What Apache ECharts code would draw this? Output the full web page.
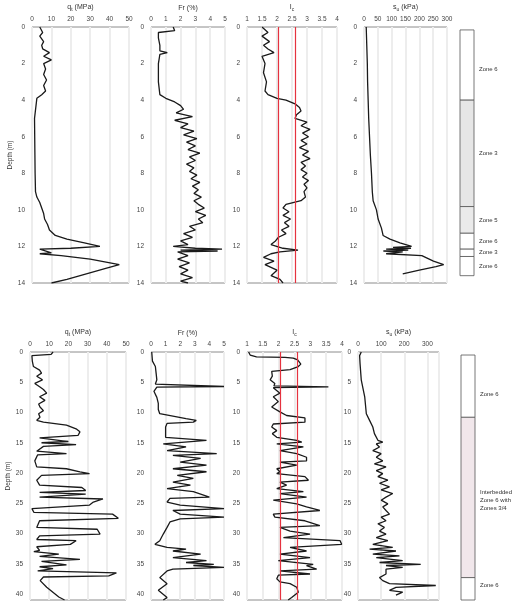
<!DOCTYPE html>
<html>
<head>
<meta charset="UTF-8">
<title>CPT profiles</title>
<script src="https://cdn.jsdelivr.net/npm/echarts@6/dist/echarts.min.js"></script>
<style>
  html, body { margin: 0; padding: 0; background: #fff; }
  #chart { width: 521px; height: 602px; }
</style>
</head>
<body>
<div id="chart"></div>
<script>
// ---- upper profile (0-14 m) ----
const qtTopDepth = [0,0.3,0.5,0.8,1.0,1.2,1.4,1.6,1.8,2.0,2.3,2.6,2.9,3.2,3.5,3.7,3.9,4.0,5,6,7,8,9,9.3,9.6,9.9,10.2,10.5,10.8,11.1,11.4,11.6,11.8,12.0,12.1,12.15,12.25,12.35,12.4,12.5,12.7,13.0,13.2,13.5,13.8,14.0];
const qtTopVal   = [4,5.5,4,6,5,5.5,9,6,10,6,7,6,7.5,6,7,5,2.5,1.5,1.3,1.4,1.5,1.6,1.8,2.5,4,5,6,6.5,8,9,12,18,27,35,20,4,3,10,4,15,30,45,38,28,18,10];

const frTopDepth = [0,0.2,0.3,0.6,1.0,1.3,1.4,1.5,2,3,3.7,3.9,4.1,4.3,4.5,4.7,4.9,5.1,5.3,5.5,5.7,5.9,6.1,6.3,6.5,6.7,6.9,7.1,7.3,7.5,7.7,7.9,8.1,8.3,8.5,8.7,8.9,9.1,9.3,9.5,9.7,9.9,10.1,10.3,10.5,10.7,10.9,11.1,11.3,11.5,11.7,11.9,12.0,12.1,12.15,12.2,12.25,12.3,12.5,12.7,12.9,13.1,13.3,13.5,13.7,13.9,14];
const frTopVal   = [1.5,1.6,0.5,0.5,0.6,0.6,1.1,0.6,0.5,0.5,0.6,1.0,1.6,2.0,2.2,1.7,2.8,1.6,2.5,2.0,2.9,2.2,3.1,2.4,3.0,2.5,3.3,2.6,3.0,2.4,2.9,2.6,3.1,2.7,3.3,2.8,3.2,2.9,3.4,2.9,3.2,3.6,3.0,3.7,3.2,3.5,2.6,3.0,2.2,2.8,2.0,2.5,1.5,3.0,4.8,2.0,4.5,1.8,2.5,1.8,2.6,1.9,2.5,2.0,2.8,2.0,2.5];

const icTopDepth = [0,0.3,0.5,0.8,1.0,1.2,1.4,1.6,2.0,2.5,3.0,3.5,3.7,3.9,4.0,4.2,4.4,4.6,4.8,5.0,5.2,5.4,5.6,5.8,6.0,6.2,6.4,6.6,6.8,7.0,7.2,7.4,7.6,7.8,8.0,8.2,8.4,8.6,8.8,9.0,9.3,9.5,9.7,9.9,10.1,10.3,10.5,10.7,10.9,11.1,11.3,11.5,11.7,11.9,12.0,12.1,12.2,12.3,12.4,12.6,12.8,13.0,13.3,13.6,13.8,14.0];
const icTopVal   = [1.5,1.7,1.5,1.75,1.55,1.7,1.9,1.5,1.6,1.55,1.65,1.6,1.7,2.0,2.3,2.6,2.75,2.8,2.65,2.6,3.0,2.8,3.1,2.85,3.05,2.8,3.0,2.75,3.05,2.85,3.1,2.8,2.95,2.8,3.0,2.85,3.05,2.9,3.0,2.9,2.95,2.8,2.3,2.2,2.4,2.2,2.45,2.25,2.4,2.15,2.3,2.05,1.95,1.8,1.75,2.2,2.7,2.1,1.8,1.55,1.9,1.6,2.0,1.8,2.1,2.2];

const suTopDepth = [0,1,2,3,4,5,6,7,8,9,9.5,10,10.5,11,11.4,11.6,11.8,12.0,12.05,12.1,12.15,12.2,12.25,12.3,12.4,12.5,12.8,13.0,13.1,13.3,13.5];
const suTopVal   = [8,10,12,13,15,17,20,23,27,30,33,45,51,63,69,94,130,172,105,170,80,160,70,140,80,209,251,288,260,200,140];

const zoneTopStart = [0.16,4.0,9.82,11.28,12.15,12.55];
const zoneTopEnd   = [4.0,9.82,11.28,12.15,12.55,13.6];
const zoneTopLabelAt = [2.3,6.9,10.6,11.7,12.35,13.1];
const zoneTopNames = ['Zone 6','Zone 3','Zone 5','Zone 6','Zone 3','Zone 6'];

// ---- lower profile (0-41 m) ----
const qtBotDepth = [0,0.4,0.6,1.5,2.4,3.0,3.5,4.0,4.6,5.2,5.75,6.2,6.8,7.4,8.0,8.6,9.1,9.7,10.2,10.8,11.3,11.6,11.8,12.1,12.7,13.2,13.8,14.0,14.2,14.5,14.8,15.0,15.3,15.6,16.4,16.8,17.0,18.0,19.0,19.3,19.8,20.1,20.4,21.2,22.0,22.4,22.9,23.2,23.5,24.0,24.3,24.8,25.3,25.6,25.9,26.5,26.8,27.5,27.9,29.0,29.3,30.1,30.4,31.0,31.2,31.8,32.2,32.8,33.0,33.4,33.8,34.3,34.6,34.9,35.2,35.5,35.8,36.2,36.5,37.0,37.2,37.8,38.9,40.5,41];
const qtBotVal   = [12,11,1,1.2,1.8,5,6,3.5,6.5,2.5,5,7,8.7,5,7.8,4.5,5.2,7,4.5,5.2,3.5,7,12,19,24,26,25,26,5,4.4,20,6,24,7,3.5,19,4,2.5,3.5,19,26,31,6,3.5,5,27,29,5,29,5,38,33,31,30,1,2,43,46,5,3.5,35,36.5,5,3.5,24,21,3.5,5,2,15,5,26,6,5,19,5,12,4,45,41,7,5.3,8.7,15,18];

const frBotDepth = [0,1.5,2.4,3.5,4.6,5.3,5.6,5.7,5.8,6.5,7.5,8.5,9.5,10.2,11.0,11.3,11.6,11.8,12.4,13.5,14.1,14.6,15.2,15.7,16.3,16.8,17.1,17.6,18.2,18.7,19.3,19.8,20.4,20.9,21.5,22.0,22.6,23.1,24.0,24.2,24.8,25.3,25.9,26.2,26.8,27.3,27.6,28.1,29.0,30.1,31.2,31.8,32.0,32.3,32.6,32.9,33.4,34.0,34.5,34.8,35.1,35.3,35.6,35.9,36.2,37.3,38.3,39.4,40.6,41];
const frBotVal   = [0.05,0.1,0.3,0.35,0.4,0.3,0.3,5,0.4,0.2,0.4,0.5,0.5,0.6,2.4,3.1,2.9,1.1,1.0,1.0,1.0,3.8,0.84,2.4,1.1,4.5,1.5,3.4,2.0,3.8,1.5,3.8,1.8,2.9,1.5,2.7,1.1,2.9,4.0,1.3,1.1,2.0,5,1.5,2.0,5,2.0,1.3,1.1,0.84,0.6,0.27,0.16,1.1,2.4,1.5,3.4,1.5,3.8,2.4,4.3,2.9,5,1.5,1.1,0.6,1.1,0.5,1.1,0.84];

const icBotDepth = [0,0.5,0.8,0.9,1.0,1.3,1.6,2.0,2.4,2.9,3.2,3.5,4.0,4.6,5.2,5.6,5.75,5.9,6.8,7.4,8.2,9.1,9.9,10.5,10.9,11.6,11.9,12.4,13.0,13.5,14.1,14.6,14.9,15.2,15.7,16.3,16.8,17.4,18.0,18.2,18.7,19.3,19.8,20.1,20.6,21.2,21.5,22.0,22.6,23.1,23.4,24.0,24.5,24.8,25.1,25.6,26.2,26.8,27.3,27.9,28.7,29.0,29.6,30.1,30.7,31.2,31.8,32.3,32.9,33.4,34.0,34.5,35.1,35.3,35.9,36.2,36.7,36.9,37.5,38.0,38.3,38.9,39.7,40.6,41.0];
const icBotVal   = [1.05,1.1,1.3,2.2,2.46,2.6,2.65,2.7,2.62,2.36,1.78,1.75,1.8,1.73,1.88,1.85,3.57,1.83,2.04,1.83,1.99,1.78,2.04,2.25,2.83,2.83,1.83,1.78,1.94,1.8,1.94,2.57,2.73,1.94,2.78,2.04,2.57,2.88,2.88,2.04,2.57,1.94,2.04,1.94,2.83,2.94,2.04,2.25,1.94,2.78,2.04,2.88,1.83,1.78,2.57,2.88,3.3,1.83,1.88,2.83,3.3,2.04,2.36,2.99,2.15,3.94,3.99,2.36,2.88,2.04,2.99,1.99,3.09,2.88,3.2,2.04,2.99,1.99,1.94,2.04,2.36,2.57,2.62,2.41,2.3];

const suBotDepth = [0,0.6,2,4.6,7.4,10.2,11.3,12.4,13.5,14.6,14.9,15.2,15.7,16.3,16.8,17.4,18.0,18.5,19.0,19.6,20.1,20.6,21.2,21.7,22.3,22.8,23.4,24.0,24.5,25.1,25.6,26.2,26.8,27.3,27.9,28.4,29.0,29.6,30.1,30.7,31.2,31.8,32.3,32.6,32.9,33.4,33.7,34.0,34.5,34.8,35.1,35.3,35.6,35.9,36.7,37.3,37.8,38.3,38.6,38.9,39.4,39.7,40.2];
const suBotVal   = [14,7,9,14,29,36,50,64,71,86,107,79,93,64,100,79,107,71,121,79,107,86,129,93,136,100,150,121,100,129,107,121,136,100,121,86,114,93,121,79,129,64,150,50,164,64,179,79,193,93,271,121,193,121,121,93,107,136,336,164,136,193,164];

const zoneBotStart = [0.5,10.8,37.3];
const zoneBotEnd   = [10.8,37.3,41];
const zoneBotLabelAt = [7,24.6,38.6];
const zoneBotNames = ['Zone 6','Interbedded\nZone 6 with\nZones 3/4','Zone 6'];

// reference lines on Ic
const icLimits = [2.05, 2.6];

const FONT = '"Liberation Sans", Arial, sans-serif';
const titleRich = {
  m: { fontSize: 7, color: '#333', fontFamily: FONT },
  s: { fontSize: 5, color: '#333', fontFamily: FONT, padding: [4, 0, 0, 0] }
};

// layout: [left, width] per panel and grid top/height per row
const rows = [
  { top: 27, height: 256, max: 14, interval: 2, panels: [[32, 97], [151, 74], [247, 90], [364, 83]], zone: [460, 14], suMax: 300, suInt: 50 },
  { top: 352, height: 248, max: 41, interval: 5, panels: [[30, 96], [151, 73], [247, 95], [358, 81]], zone: [461, 14], suMax: 350, suInt: 100 }
];
const names = ['{m|q}{s|t}{m| (MPa)}', '{m|Fr (%)}', '{m|I}{s|c}', '{m|s}{s|u}{m| (kPa)}'];

const grids = [], xAxes = [], yAxes = [], series = [];

rows.forEach((row, r) => {
  const xSpec = [
    { min: 0, max: 50, interval: 10 },
    { min: 0, max: 5, interval: 1 },
    { min: 1, max: 4, interval: 0.5 },
    { min: 0, max: row.suMax, interval: row.suInt }
  ];
  row.panels.forEach((p, i) => {
    const gi = grids.length;
    grids.push({ left: p[0], width: p[1], top: row.top, height: row.height, show: true, borderColor: '#8c8c8c', borderWidth: 1 });
    xAxes.push({
      gridIndex: gi, type: 'value', position: 'top',
      min: xSpec[i].min, max: xSpec[i].max, interval: xSpec[i].interval,
      name: names[i], nameLocation: 'middle', nameGap: 15,
      nameTextStyle: { rich: titleRich },
      axisLine: { show: false }, axisTick: { show: false },
      axisLabel: { fontSize: 6.5, color: '#444', fontFamily: FONT, margin: 4, showMaxLabel: !(r === 1 && i === 3) },
      splitLine: { show: true, lineStyle: { color: '#ededed', width: 2 } }
    });
    yAxes.push({
      gridIndex: gi, type: 'value', inverse: true,
      min: 0, max: row.max, interval: row.interval,
      name: i === 0 ? 'Depth (m)' : '', nameLocation: 'middle', nameGap: 15, nameRotate: 90,
      nameTextStyle: { fontSize: 6.5, color: '#333', fontFamily: FONT },
      axisLine: { show: false }, axisTick: { show: false },
      axisLabel: { fontSize: 6.5, color: '#444', fontFamily: FONT, margin: 7, showMaxLabel: r === 0 },
      splitLine: { show: false }
    });
  });
  // zone column grid
  const zi = grids.length;
  grids.push({ left: row.zone[0], width: row.zone[1], top: row.top, height: row.height, show: false });
  xAxes.push({ gridIndex: zi, type: 'value', min: 0, max: 1, show: false });
  yAxes.push({ gridIndex: zi, type: 'value', inverse: true, min: 0, max: row.max, show: false });
});

function addLine(idx, depth, vals, extra) {
  series.push(Object.assign({
    type: 'line', xAxisIndex: idx, yAxisIndex: idx,
    data: depth.map((d, i) => [vals[i], d]),
    showSymbol: false, symbol: 'none', animation: false, clip: true,
    lineStyle: { color: '#1a1a1a', width: 1.3 }
  }, extra || {}));
}

const icMark = {
  markLine: {
    silent: true, symbol: 'none', label: { show: false },
    lineStyle: { color: '#e5323f', width: 1.2, type: 'solid' },
    data: icLimits.map(v => ({ xAxis: v }))
  }
};

addLine(0, qtTopDepth, qtTopVal);
addLine(1, frTopDepth, frTopVal);
addLine(2, icTopDepth, icTopVal, icMark);
addLine(3, suTopDepth, suTopVal);
addLine(5, qtBotDepth, qtBotVal);
addLine(6, frBotDepth, frBotVal);
addLine(7, icBotDepth, icBotVal, icMark);
addLine(8, suBotDepth, suBotVal);

function zoneSeries(idx, starts, ends, labelAt, labels, fills) {
  series.push({
    type: 'custom', xAxisIndex: idx, yAxisIndex: idx, animation: false, silent: true,
    data: starts.map((s, i) => [s, ends[i], labelAt[i], i]),
    renderItem: function (params, api) {
      const a = api.coord([0, api.value(0)]);
      const b = api.coord([1, api.value(1)]);
      const k = api.value(3);
      const ty = api.coord([1, api.value(2)])[1];
      return {
        type: 'group',
        children: [
          { type: 'rect', shape: { x: a[0], y: a[1], width: b[0] - a[0], height: b[1] - a[1] },
            style: { fill: fills[k], stroke: '#555', lineWidth: 0.8 } },
          { type: 'text', x: b[0] + 5, y: ty,
            style: { text: labels[k], fill: '#333', fontSize: 6, fontFamily: FONT, verticalAlign: 'middle', align: 'left', lineHeight: 8 } }
        ]
      };
    }
  });
}

zoneSeries(4, zoneTopStart, zoneTopEnd, zoneTopLabelAt, zoneTopNames, ['#ffffff', '#e6e6e6', '#eaeaea', '#ffffff', '#ffffff', '#ffffff']);
zoneSeries(9, zoneBotStart, zoneBotEnd, zoneBotLabelAt, zoneBotNames, ['#ffffff', '#f1e7eb', '#ffffff']);

const chart = echarts.init(document.getElementById('chart'), null, { renderer: 'canvas' });
chart.setOption({
  animation: false,
  backgroundColor: '#fff',
  grid: grids,
  xAxis: xAxes,
  yAxis: yAxes,
  series: series
});
</script>
</body>
</html>
